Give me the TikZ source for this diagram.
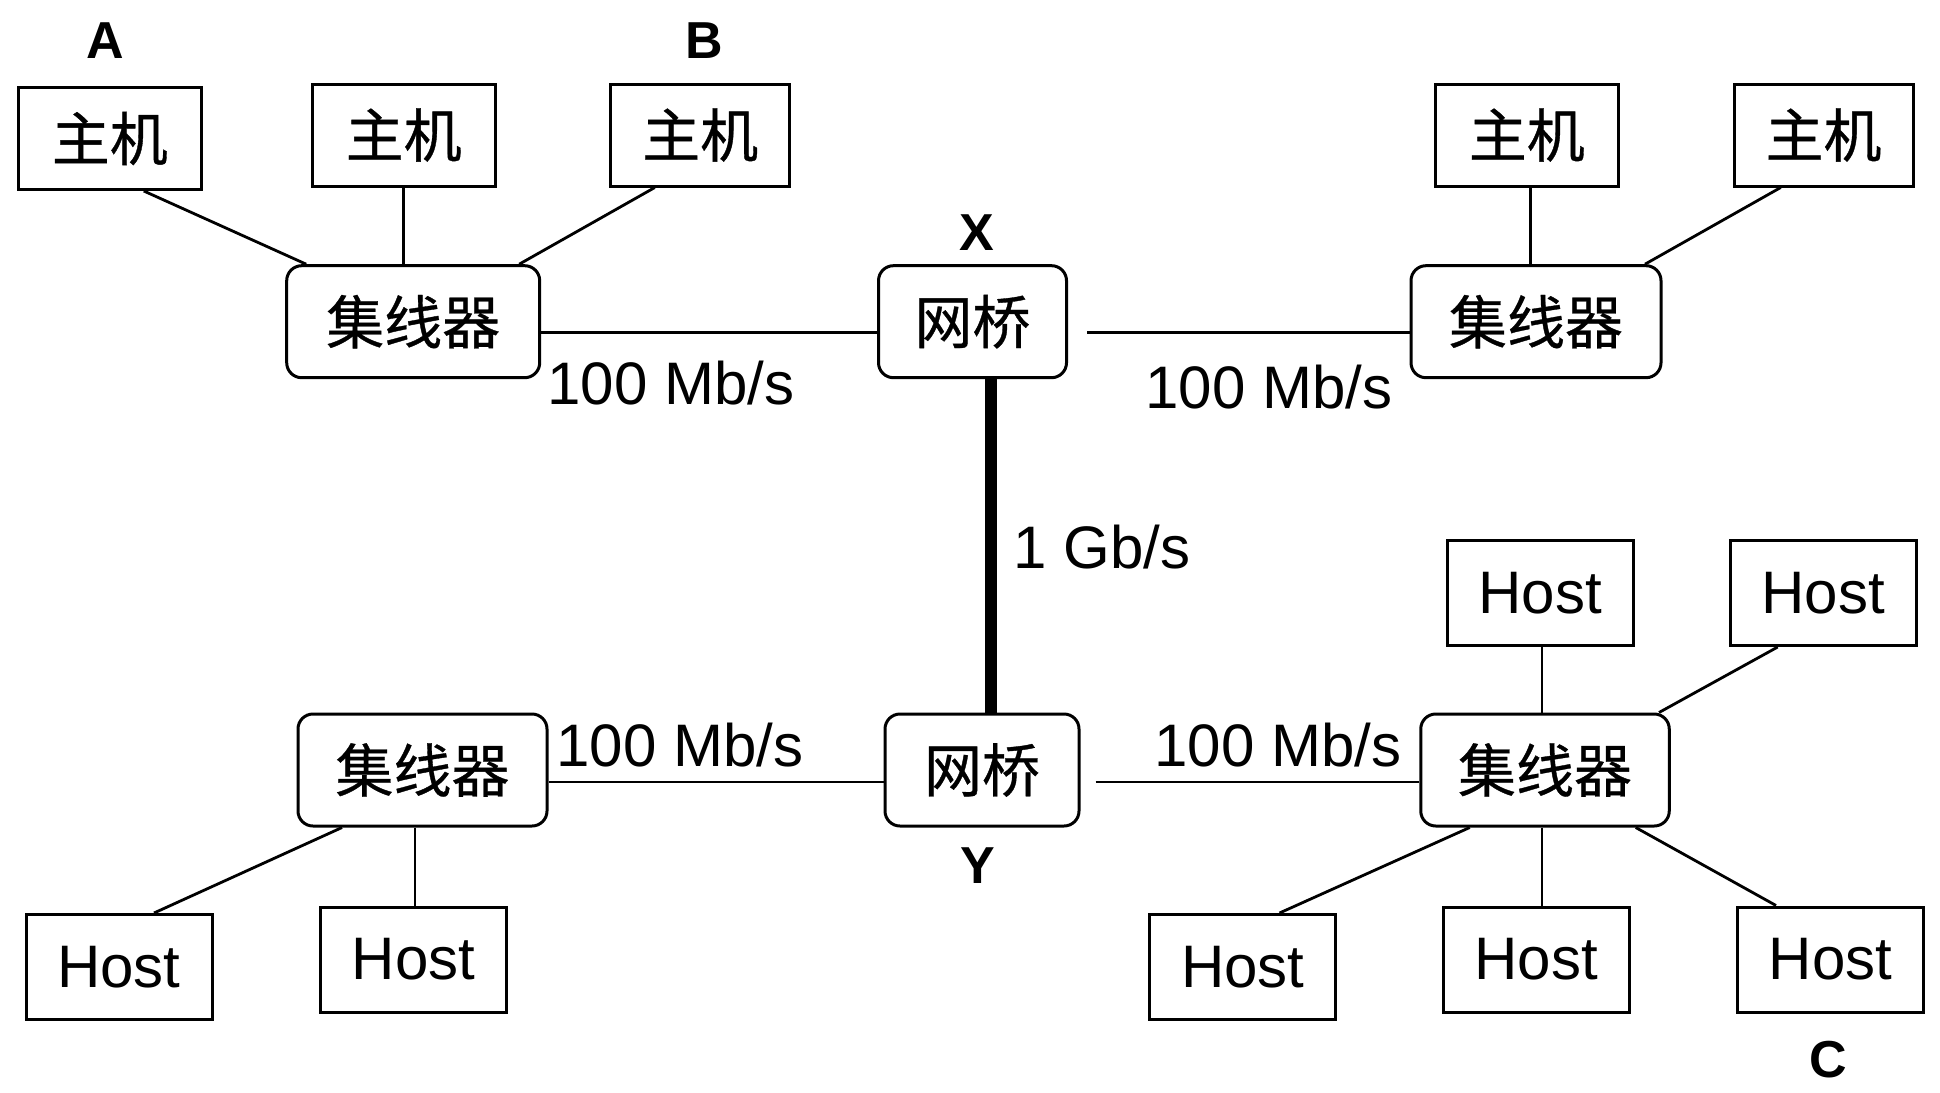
\documentclass[tikz,border=0pt]{standalone}
\usepackage{fontspec}
\setmainfont{Liberation Sans}
\newfontfamily\cjk[FakeBold=0.6]{Noto Sans CJK SC}
\begin{document}
\begin{tikzpicture}[x=1pt,y=-1pt,
  hostbox/.style={draw,line width=3pt,inner sep=0pt,minimum width=183pt,minimum height=102pt,font=\cjk\fontsize{58}{60}\selectfont},
  ebox/.style={draw,line width=3pt,inner sep=0pt,minimum width=186pt,minimum height=105pt,font=\fontsize{60}{62}\selectfont},
  hubbox/.style={draw,rounded corners=15pt,line width=3pt,inner sep=0pt,minimum width=251pt,minimum height=112pt,font=\cjk\fontsize{58}{60}\selectfont},
  bridgebox/.style={draw,rounded corners=15pt,line width=3pt,inner sep=0pt,minimum width=190pt,minimum height=112pt,font=\cjk\fontsize{58}{60}\selectfont},
  conn/.style={line width=2.8pt},
  thick link/.style={line width=12pt},
  rate/.style={inner sep=0pt,font=\fontsize{60}{62}\selectfont},
  tag/.style={inner sep=0pt,font=\bfseries\fontsize{52}{54}\selectfont}]
\useasboundingbox (0,0) rectangle (1940,1092);
% top-left group
\node[hostbox] (a1) at (109.8,138.5) {主机};
\node[hostbox] (a2) at (403.7,135) {主机};
\node[hostbox,minimum width=179pt] (a3) at (700.2,135) {主机};
\node[hubbox,minimum width=253pt] (hubTL) at (413.2,321.7) {集线器};
% bridge X
\node[bridgebox,minimum width=188pt] (bx) at (972.5,321.7) {网桥};
% top-right group
\node[hostbox] (r1) at (1526.8,135) {主机};
\node[hostbox,minimum width=179pt] (r2) at (1823.5,135) {主机};
\node[hubbox,minimum width=250pt] (hubTR) at (1536,321.7) {集线器};
% bottom
\node[hubbox,minimum width=249pt] (hubBL) at (422.5,770) {集线器};
\node[bridgebox,minimum width=194pt] (by) at (982,770) {网桥};
\node[hubbox,minimum width=248.5pt] (hubBR) at (1545,770) {集线器};
\node[ebox] (t1) at (1540,593) {Host};
\node[ebox] (t2) at (1823,593) {Host};
\node[ebox] (bl1) at (119,967) {Host};
\node[ebox] (bl2) at (413.5,959.5) {Host};
\node[ebox] (b1) at (1242.8,967) {Host};
\node[ebox] (b2) at (1536,959.5) {Host};
\node[ebox] (b3) at (1830.5,959.5) {Host};
% labels
\node[tag] (la) at (105,41) {A};
\node[tag] (lb) at (704,41) {B};
\node[tag] (lx) at (977,233) {X};
\node[tag] (ly) at (978,866) {Y};
\node[tag] (lc) at (1828,1060) {C};
\node[rate] (r100a) at (671,383.5) {100 Mb/s};
\node[rate] (r100b) at (1269,387) {100 Mb/s};
\node[rate] (r100c) at (680,745) {100 Mb/s};
\node[rate] (r100d) at (1278,745) {100 Mb/s};
\node[rate] (r1g) at (1102,547) {1 Gb/s};
% connectors top-left
\draw[conn] ([xshift=34pt]a1.south) -- ([xshift=-107pt]hubTL.north);
\draw[conn] (a2.south) -- ([xshift=-9.5pt]hubTL.north);
\draw[conn] ([xshift=-45.4pt]a3.south) -- ([xshift=106pt]hubTL.north);
% top-right
\draw[conn] ([xshift=3.9pt]r1.south) -- ([xshift=-5.3pt]hubTR.north);
\draw[conn] ([xshift=-42.8pt]r2.south) -- ([xshift=109pt]hubTR.north);
% backbone
\draw[conn] ([yshift=-11pt]hubTL.east) -- ([yshift=-11pt]bx.west);
\draw[conn,shorten <=19pt] ([yshift=-11pt]bx.east) -- ([yshift=-11pt]hubTR.west);
\draw[thick link] ([xshift=18.5pt]bx.south) -- ([xshift=9pt]by.north);
\draw[conn] ([yshift=-12pt]hubBL.east) -- ([yshift=-12pt]by.west);
\draw[conn,shorten <=15pt] ([yshift=-12pt]by.east) -- ([yshift=-12pt]hubBR.west);
% bottom-left
\draw[conn] ([xshift=-80.5pt]hubBL.south) -- ([xshift=35pt]bl1.north);
\draw[conn] ([xshift=-7.5pt]hubBL.south) -- ([xshift=1.5pt]bl2.north);
% bottom-right
\draw[conn] ([xshift=2pt]t1.south) -- ([xshift=-3pt]hubBR.north);
\draw[conn] ([xshift=-45.3pt]t2.south) -- ([xshift=114pt]hubBR.north);
\draw[conn] ([xshift=-75.3pt]hubBR.south) -- ([xshift=36.7pt]b1.north);
\draw[conn] ([xshift=-3pt]hubBR.south) -- ([xshift=6pt]b2.north);
\draw[conn] ([xshift=90.7pt]hubBR.south) -- ([xshift=-54.5pt]b3.north);
\end{tikzpicture}
\end{document}
